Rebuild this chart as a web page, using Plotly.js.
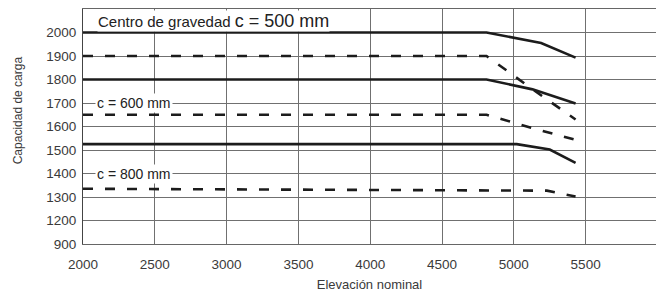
<!DOCTYPE html>
<html>
<head>
<meta charset="utf-8">
<script src="https://cdn.plot.ly/plotly-3.0.1.min.js"></script>
<style>html,body{margin:0;padding:0;background:#fff;}#chart{width:656px;height:297px;}</style>
</head>
<body>
<div id="chart"></div>
<script>
// Elevación nominal (x) and Capacidad de carga (y) per curve
const c500SolidX = [2000, 4810, 5190, 5430];
const c500SolidY = [2000, 2000, 1955, 1893];
const c500DashX  = [2000, 4810, 5200, 5430];
const c500DashY  = [1900, 1900, 1728, 1630];
const c600SolidX = [2000, 4810, 5130, 5430];
const c600SolidY = [1800, 1800, 1758, 1698];
const c600DashX  = [2000, 4810, 5120, 5430];
const c600DashY  = [1650, 1650, 1595, 1543];
const c800SolidX = [2000, 5020, 5250, 5430];
const c800SolidY = [1525, 1525, 1502, 1445];
const c800DashX  = [2000, 4000, 5230, 5430];
const c800DashY  = [1335, 1331, 1327, 1302];

const xTicks = [2000, 2500, 3000, 3500, 4000, 4500, 5000, 5500];
const yTickVals = [1100, 1200, 1300, 1400, 1500, 1600, 1700, 1800, 1900, 2000];
const yTickText = ['900', '1200', '1300', '1400', '1500', '1600', '1700', '1800', '1900', '2000'];

const FONT = '"Liberation Sans", Arial, sans-serif';
const lineColor = '#1c1c1c';

function solid(x, y, name) {
  return {x: x, y: y, name: name, type: 'scatter', mode: 'lines',
    line: {color: lineColor, width: 2.6}, hoverinfo: 'skip'};
}
function dashed(x, y, name) {
  return {x: x, y: y, name: name, type: 'scatter', mode: 'lines',
    line: {color: lineColor, width: 2.6, dash: '10px,12px'}, hoverinfo: 'skip'};
}

const data = [
  solid(c500SolidX, c500SolidY, 'c = 500 mm'),
  dashed(c500DashX, c500DashY, 'c = 500 mm'),
  solid(c600SolidX, c600SolidY, 'c = 600 mm'),
  dashed(c600DashX, c600DashY, 'c = 600 mm'),
  solid(c800SolidX, c800SolidY, 'c = 800 mm'),
  dashed(c800DashX, c800DashY, 'c = 800 mm')
];

const layout = {
  width: 656, height: 297,
  margin: {l: 83, r: 0, t: 9, b: 53},
  paper_bgcolor: '#fff', plot_bgcolor: '#fff',
  showlegend: false,
  font: {family: FONT, color: '#333'},
  xaxis: {
    range: [2000, 5990], tickvals: xTicks, ticktext: xTicks.map(String),
    showgrid: true, gridcolor: '#707070', gridwidth: 1,
    showline: true, linecolor: '#666', linewidth: 1, mirror: true,
    zeroline: false, ticks: 'outside', ticklen: 8, tickcolor: 'rgba(0,0,0,0)',
    tickfont: {family: FONT, size: 13.5, color: '#3a3a3a'},
    title: {text: 'Elevación nominal', font: {family: FONT, size: 13, color: '#3a3a3a'}, standoff: 8},
    fixedrange: true
  },
  yaxis: {
    range: [1100, 2100], tickvals: yTickVals, ticktext: yTickText,
    showgrid: true, gridcolor: '#707070', gridwidth: 1,
    showline: true, linecolor: '#444', linewidth: 1, mirror: false,
    zeroline: false, ticks: 'outside', ticklen: 3, tickcolor: 'rgba(0,0,0,0)',
    tickfont: {family: FONT, size: 13.5, color: '#3a3a3a'},
    fixedrange: true
  },
  annotations: [
    {xref: 'x', yref: 'paper', x: 2100, y: 0.948, xanchor: 'left', yanchor: 'middle',
     text: 'Centro de gravedad <span style="font-size:18px">c = 500 mm</span>',
     showarrow: false, bgcolor: '#fff', borderpad: 0,
     font: {family: FONT, size: 15, color: '#222'}},
    {xref: 'x', yref: 'y', x: 2085, y: 1700, xanchor: 'left', yanchor: 'middle',
     text: 'c = 600 mm', showarrow: false, bgcolor: '#fff', borderpad: 1,
     font: {family: FONT, size: 14, color: '#222'}},
    {xref: 'x', yref: 'y', x: 2085, y: 1400, xanchor: 'left', yanchor: 'middle',
     text: 'c = 800 mm', showarrow: false, bgcolor: '#fff', borderpad: 1,
     font: {family: FONT, size: 14, color: '#222'}},
    {xref: 'paper', yref: 'paper', x: -0.113, y: 0.57, xanchor: 'center', yanchor: 'middle',
     text: 'Capacidad de carga', textangle: -90, showarrow: false,
     font: {family: FONT, size: 12, color: '#3a3a3a'}}
  ]
};

Plotly.newPlot('chart', data, layout, {displayModeBar: false, staticPlot: true});
</script>
</body>
</html>
